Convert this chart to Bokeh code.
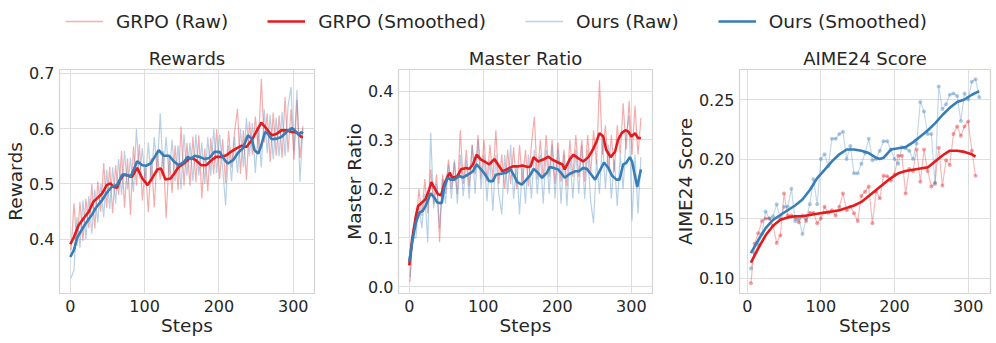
from bokeh.plotting import figure
from bokeh.models import Range1d, Legend, LegendItem, FixedTicker, PrintfTickFormatter
from bokeh.layouts import column, row
from bokeh.embed import file_html
from bokeh.resources import INLINE

# ---------------- data ----------------
RED = "#e41a1c"
BLUE = "#377eb8"

raw_steps = list(range(1, 314, 4))

# Rewards
rew_grpo_raw = [.38, .465, .388, .468, .397, .473, .42, .50, .419, .505,
                .45, .538, .457, .531, .447, .534, .48, .56, .457, .546,
                .444, .568, .497, .572, .47, .532, .449, .547, .458, .556,
                .508, .56, .438, .549, .484, .57, .489, .604, .497, .574,
                .497, .586, .503, .588, .474, .564, .487, .583, .518, .599,
                .509, .581, .502, .596, .53, .593, .636, .518, .597, .507,
                .613, .553, .622, .563, .69, .575, .628, .54, .629, .551,
                .624, .547, .657, .557, .635, .544, .652, .547, .605]
rew_ours_raw = [.33, .345, .44, .385, .47, .40, .478, .41, .49, .43,
                .50, .44, .525, .455, .53, .465, .545, .48, .56, .49,
                .548, .485, .60, .51, .565, .50, .575, .505, .585, .52,
                .628, .52, .585, .51, .58, .505, .57, .49, .59, .515,
                .575, .505, .59, .515, .575, .50, .585, .515, .60, .52,
                .59, .53, .461, .57, .505, .585, .52, .60, .53, .62,
                .55, .61, .52, .60, .53, .635, .555, .625, .545, .62,
                .55, .63, .55, .64, .675, .56, .67, .504, .60]
rew_grpo_sm_steps = [0, 5, 11, 18, 25, 31, 36, 43, 49, 54, 58, 63, 67, 72, 79, 83, 90, 97, 104, 110,
                     117, 122, 128, 135, 140, 146, 153, 160, 163, 169, 176, 183, 190, 196, 203, 210,
                     216, 223, 230, 237, 244, 250, 257, 264, 271, 278, 284, 291, 298, 305, 311, 313]
rew_grpo_sm = [.391, .404, .425, .438, .45, .468, .474, .483, .498, .501, .495, .493, .507, .517, .515,
               .513, .529, .51, .498, .51, .526, .528, .508, .51, .519, .531, .537, .546, .547, .543,
               .534, .534, .543, .549, .549, .552, .558, .564, .569, .567, .579, .594, .611, .60, .588,
               .591, .597, .597, .594, .593, .585, .585]
rew_ours_sm_steps = [0, 5, 9, 14, 20, 25, 29, 34, 38, 43, 47, 52, 56, 63, 70, 77, 81, 86, 90, 97, 102,
                     108, 115, 119, 126, 133, 140, 146, 153, 158, 163, 167, 174, 181, 187, 194, 201,
                     208, 212, 219, 226, 232, 239, 244, 248, 253, 257, 262, 266, 271, 278, 284, 291,
                     298, 302, 307, 311, 313]
rew_ours_sm = [.368, .381, .402, .414, .427, .437, .444, .456, .463, .471, .48, .489, .495, .498, .517,
               .516, .513, .528, .541, .534, .533, .537, .552, .561, .551, .551, .54, .534, .54, .549,
               .545, .551, .549, .545, .547, .558, .558, .543, .537, .543, .557, .564, .588, .582, .561,
               .555, .57, .594, .591, .581, .582, .585, .594, .601, .597, .589, .594, .591]

# Master Ratio
mr_grpo_raw = [.01, .12, .12, .20, .145, .22, .15, .24, .17, .23,
               .091, .23, .19, .26, .20, .255, .19, .32, .21, .28,
               .205, .29, .23, .31, .22, .30, .215, .29, .22, .32,
               .21, .27, .20, .28, .21, .285, .20, .29, .21, .28,
               .205, .29, .348, .22, .30, .22, .31, .225, .30, .21,
               .295, .215, .28, .205, .30, .225, .31, .225, .30, .215,
               .31, .23, .32, .25, .422, .27, .33, .235, .31, .235,
               .33, .27, .375, .28, .38, .27, .37, .27, .345]
mr_ours_raw = [.02, .10, .10, .17, .12, .19, .091, .314, .16, .21,
               .12, .22, .17, .25, .18, .26, .17, .27, .185, .26,
               .18, .29, .19, .30, .20, .27, .175, .26, .155, .27,
               .19, .148, .27, .19, .29, .18, .25, .148, .25, .17,
               .27, .18, .28, .19, .27, .17, .28, .19, .29, .18,
               .28, .17, .27, .165, .27, .18, .28, .19, .29, .18,
               .28, .175, .13, .26, .19, .30, .20, .29, .18, .26,
               .165, .27, .20, .31, .35, .135, .27, .15, .265]
mr_grpo_sm_steps = [0, 4, 9, 12, 17, 22, 27, 30, 34, 39, 43, 47, 52, 55, 58, 65, 70, 77, 81, 86, 91,
                    97, 102, 108, 115, 119, 126, 133, 140, 146, 153, 160, 164, 168, 174, 181, 188,
                    192, 201, 207, 210, 217, 222, 228, 235, 242, 248, 253, 257, 262, 266, 272, 278,
                    282, 287, 292, 296, 300, 305, 309, 313]
mr_grpo_sm = [.044, .098, .145, .165, .172, .179, .199, .214, .202, .189, .187, .209, .226, .233, .223,
              .226, .24, .243, .241, .25, .27, .26, .256, .25, .261, .252, .236, .241, .246, .246,
              .248, .245, .246, .265, .256, .26, .266, .261, .254, .25, .24, .261, .27, .263, .256,
              .265, .28, .297, .314, .307, .28, .265, .276, .30, .314, .32, .317, .307, .314, .304, .304]
mr_ours_sm_steps = [0, 4, 9, 14, 18, 22, 29, 34, 38, 44, 47, 52, 56, 61, 68, 72, 79, 86, 91, 97, 101,
                    108, 113, 117, 124, 131, 137, 142, 146, 152, 157, 163, 168, 174, 179, 186, 190,
                    195, 201, 206, 210, 217, 224, 229, 235, 240, 246, 251, 257, 263, 269, 274, 280,
                    284, 289, 293, 298, 301, 305, 308, 311, 313]
mr_ours_sm = [.051, .091, .132, .152, .155, .165, .191, .182, .172, .171, .202, .223, .219, .219, .227,
              .223, .229, .236, .25, .24, .233, .216, .216, .229, .231, .233, .24, .226, .214, .209,
              .217, .227, .241, .233, .223, .233, .245, .243, .24, .231, .223, .231, .236, .236, .243,
              .241, .229, .219, .236, .254, .243, .227, .219, .219, .25, .253, .265, .256, .226, .204,
              .226, .24]

# AIME24 Score
aime_grpo_steps = list(range(5, 311, 5))
aime_grpo_raw = [.0958, .1288, .1377, .148, .150, .150, .144, .1296, .1358, .171,
                 .1525, .1525, .151, .147, .1525, .148, .155, .155, .146, .150,
                 .160, .155, .157, .1525, .160, .171, .157, .160, .1545, .148,
                 .169, .1726, .177, .146, .1729, .167, .186, .1855, .182, .187,
                 .2028, .2028, .171, .1916, .190, .208, .181, .208, .190, .177,
                 .180, .2095, .1777, .199, .195, .221, .2274, .2196, .2274, .2316,
                 .207, .186]
aime_ours_steps = list(range(5, 316, 5))
aime_ours_raw = [.108, .121, .128, .137, .156, .150, .152, .162, .150, .160,
                 .160, .175, .148, .150, .137, .150, .162, .183, .162, .200,
                 .204, .194, .217, .217, .221, .223, .200, .211, .188, .188,
                 .196, .205, .217, .199, .200, .207, .215, .215, .208, .200,
                 .196, .210, .209, .207, .200, .213, .248, .240, .221, .221,
                 .179, .261, .242, .246, .254, .255, .253, .232, .255, .250,
                 .265, .267, .252]
aime_grpo_sm_steps = [5, 15, 25, 35, 45, 55, 65, 75, 85, 95, 105, 115, 125, 135, 145, 155, 165, 175,
                      185, 195, 205, 215, 225, 235, 245, 255, 265, 275, 285, 295, 305, 310]
aime_grpo_sm = [.113, .125, .136, .144, .149, .151, .152, .152, .153, .154, .155, .156, .157, .159,
                .161, .164, .169, .174, .179, .184, .188, .190, .191, .192, .193, .198, .203, .207,
                .207, .206, .204, .202]
aime_ours_sm_steps = [5, 15, 25, 35, 45, 55, 65, 75, 85, 95, 105, 115, 125, 135, 145, 155, 165, 175,
                      180, 185, 195, 205, 215, 225, 235, 245, 255, 265, 275, 285, 295, 305, 315]
aime_ours_sm = [.121, .132, .142, .149, .153, .157, .161, .166, .174, .184, .191, .198, .204, .208,
                .208, .207, .205, .201, .200, .201, .208, .209, .210, .214, .219, .224, .230, .237,
                .243, .248, .250, .254, .257]

legend_labels = ["GRPO (Raw)", "GRPO (Smoothed)", "Ours (Raw)", "Ours (Smoothed)"]

FONT = "DejaVu Sans"
TXT = "#262626"
GRID = "#dedede"
RAW_ALPHA = 0.36


def make_fig(title, ylabel, xr, yr, yticks, yfmt, width, bl, br):
    p = figure(width=width, height=301, x_range=Range1d(*xr), y_range=Range1d(*yr),
               output_backend="svg", toolbar_location=None,
               min_border_left=bl, min_border_right=br, min_border_top=27, min_border_bottom=50,
               title=title)
    p.title.text_font = FONT
    p.title.text_font_size = "18px"
    p.title.text_font_style = "normal"
    p.title.text_color = TXT
    p.title.align = "center"
    p.title.standoff = 1
    p.outline_line_color = "#d4d4d4"
    p.outline_line_width = 1.2
    p.xaxis.axis_label = "Steps"
    p.yaxis.axis_label = ylabel
    for ax in (p.xaxis[0], p.yaxis[0]):
        ax.axis_label_text_font = FONT
        ax.axis_label_text_font_size = "18.5px"
        ax.axis_label_text_font_style = "normal"
        ax.axis_label_text_color = TXT
        ax.major_label_text_font = FONT
        ax.major_label_text_font_size = "16px"
        ax.major_label_text_color = TXT
        ax.axis_line_color = None
        ax.major_tick_line_color = None
        ax.minor_tick_line_color = None
        ax.major_tick_out = 0
        ax.major_tick_in = 0
        ax.major_label_standoff = 6
        ax.axis_label_standoff = 0
    p.yaxis[0].major_label_standoff = 5
    p.xaxis.ticker = FixedTicker(ticks=[0, 100, 200, 300])
    p.xaxis.formatter = PrintfTickFormatter(format="%d")
    p.yaxis.ticker = FixedTicker(ticks=yticks)
    p.yaxis.formatter = PrintfTickFormatter(format=yfmt)
    p.grid.grid_line_color = GRID
    p.grid.grid_line_width = 1
    return p


XR = (-14.5, 328.6)

p1 = make_fig("Rewards", "Rewards", XR, (0.302, 0.707), [0.4, 0.5, 0.6, 0.7], "%.1f", 338, 59, 24)
p1.line(raw_steps, rew_grpo_raw, line_color=RED, line_alpha=RAW_ALPHA, line_width=1.2)
p1.line(raw_steps, rew_ours_raw, line_color=BLUE, line_alpha=RAW_ALPHA, line_width=1.2)
p1.line(rew_grpo_sm_steps, rew_grpo_sm, line_color=RED, line_width=2.6)
p1.line(rew_ours_sm_steps, rew_ours_sm, line_color=BLUE, line_width=2.6)

p2 = make_fig("Master Ratio", "Master Ratio", XR, (-0.0136, 0.444), [0.0, 0.1, 0.2, 0.3, 0.4], "%.1f",
              333, 60, 19)
p2.line(raw_steps, mr_grpo_raw, line_color=RED, line_alpha=RAW_ALPHA, line_width=1.2)
p2.line(raw_steps, mr_ours_raw, line_color=BLUE, line_alpha=RAW_ALPHA, line_width=1.2)
p2.line(mr_grpo_sm_steps, mr_grpo_sm, line_color=RED, line_width=2.6)
p2.line(mr_ours_sm_steps, mr_ours_sm, line_color=BLUE, line_width=2.6)

p3 = make_fig("AIME24 Score", "AIME24 Score", (-10.5, 330.3), (0.0871, 0.2752),
              [0.10, 0.15, 0.20, 0.25], "%.2f", 325, 64, 6)
p3.line(aime_grpo_steps, aime_grpo_raw, line_color=RED, line_alpha=0.3, line_width=1.2)
p3.scatter(aime_grpo_steps, aime_grpo_raw, size=4, fill_color=RED, fill_alpha=0.4, line_color=None)
p3.line(aime_ours_steps, aime_ours_raw, line_color=BLUE, line_alpha=0.3, line_width=1.2)
p3.scatter(aime_ours_steps, aime_ours_raw, size=4, fill_color=BLUE, fill_alpha=0.4, line_color=None)
p3.line(aime_grpo_sm_steps, aime_grpo_sm, line_color=RED, line_width=2.6)
p3.line(aime_ours_sm_steps, aime_ours_sm, line_color=BLUE, line_width=2.6)

# legend strip (dummy renderers sit outside the visible range)
lg = figure(width=996, height=42, x_range=Range1d(0, 1), y_range=Range1d(0, 1),
            output_backend="svg", toolbar_location=None, min_border=0,
            x_axis_location=None, y_axis_location=None, outline_line_color=None)
lg.grid.visible = False
styles = [(RED, 0.35, 1.5), (RED, 1.0, 2.6), (BLUE, 0.35, 1.5), (BLUE, 1.0, 2.6)]
items = []
for lab, (c, a, w) in zip(legend_labels, styles):
    r = lg.line([5, 6], [5, 6], line_color=c, line_alpha=a, line_width=w)
    items.append(LegendItem(label=lab, renderers=[r]))
legend = Legend(items=items, orientation="horizontal", location=(65, 10.5),
                glyph_width=38, glyph_height=20, label_standoff=13, spacing=39,
                padding=0, margin=0, border_line_color=None, background_fill_alpha=0,
                label_text_font=FONT, label_text_font_size="18.5px", label_text_color=TXT)
lg.add_layout(legend, "center")

layout = column(lg, row(p1, p2, p3))
open("out.html", "w").write(file_html(layout, INLINE))
